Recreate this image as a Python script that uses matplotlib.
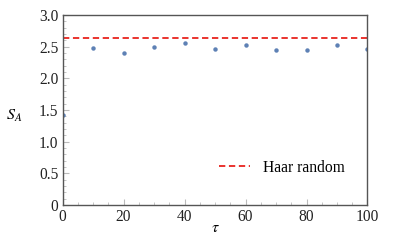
import matplotlib.pyplot as plt
from matplotlib.ticker import MultipleLocator, FuncFormatter

# data
tau = [0, 10, 20, 30, 40, 50, 60, 70, 80, 90, 100]
entropy = [1.42, 2.48, 2.40, 2.50, 2.55, 2.46, 2.52, 2.45, 2.45, 2.52, 2.46]
haar_value = 2.64

plt.rcParams["font.family"] = ["Liberation Serif", "DejaVu Serif"]
plt.rcParams["mathtext.fontset"] = "stix"

fig = plt.figure(figsize=(3.99, 2.42), dpi=100)
ax = fig.add_axes([0.157, 0.153, 0.764, 0.785])

ax.plot(tau, entropy, "o", color="#5E81B5", markersize=3.2, markeredgewidth=0)
ax.axhline(haar_value, color="#E8231E", linestyle=(0, (3.5, 2)), linewidth=1.3,
           label="Haar random")

ax.set_xlim(0, 100)
ax.set_ylim(0, 3.0)
ax.xaxis.set_major_locator(MultipleLocator(20))
ax.xaxis.set_minor_locator(MultipleLocator(5))
ax.yaxis.set_major_locator(MultipleLocator(0.5))
ax.yaxis.set_minor_locator(MultipleLocator(0.1))


def fmt_y(v, _):
    return "0" if abs(v) < 1e-9 else f"{v:.1f}"


ax.yaxis.set_major_formatter(FuncFormatter(fmt_y))
ax.xaxis.set_major_formatter(FuncFormatter(lambda v, _: f"{int(round(v))}"))

for side in ["top", "right", "bottom", "left"]:
    ax.spines[side].set_color("#555555")
    ax.spines[side].set_linewidth(1.0)

ax.tick_params(which="both", direction="in", color="#BBBBBB", labelsize=11.2,
               labelcolor="#222222", top=False, right=False)
ax.tick_params(which="major", length=4, width=0.8, pad=3)
ax.tick_params(which="minor", length=2, width=0.6)

ax.set_ylabel("$S_A$", fontsize=11.5, rotation=0, va="center")
ax.yaxis.set_label_coords(-0.16, 0.47)
ax.set_xlabel(r"$\tau$", fontsize=11.5, va="center")
ax.xaxis.set_label_coords(0.5, -0.12)

ax.legend(loc="lower right", bbox_to_anchor=(0.97, 0.08), frameon=False,
          fontsize=11.2, handlelength=2.0, handletextpad=0.8)

fig.savefig("out.png", dpi=100)
